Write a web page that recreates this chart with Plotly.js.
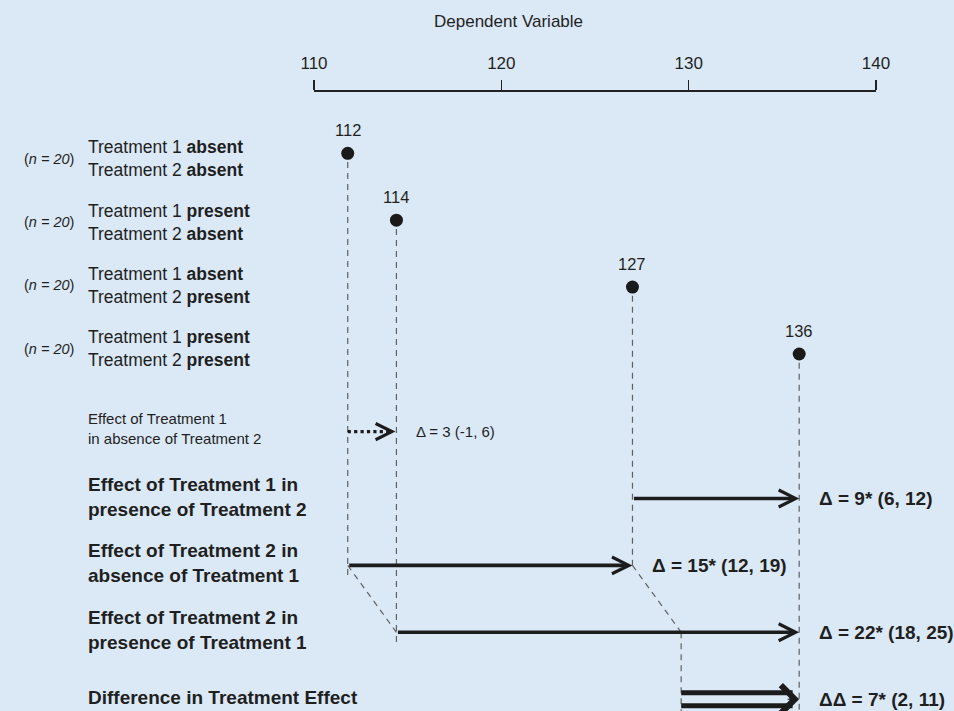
<!DOCTYPE html>
<html>
<head>
<meta charset="utf-8">
<script src="https://cdn.plot.ly/plotly-3.0.1.min.js"></script>
<style>
html,body{margin:0;padding:0;background:#dbe9f6;}
#chart{width:954px;height:711px;}
</style>
</head>
<body>
<div id="chart"></div>
<script>
// ---------------- data ----------------
const groupNames = [
  'Treatment 1 <b>absent</b><br>Treatment 2 <b>absent</b>',
  'Treatment 1 <b>present</b><br>Treatment 2 <b>absent</b>',
  'Treatment 1 <b>absent</b><br>Treatment 2 <b>present</b>',
  'Treatment 1 <b>present</b><br>Treatment 2 <b>present</b>'
];
const groupN = [20, 20, 20, 20];
const groupMeans = [111.8, 114.4, 127.0, 135.9];
const meanLabels = ['112', '114', '127', '136'];

const effectNames = [
  'Effect of Treatment 1<br>in absence of Treatment 2',
  'Effect of Treatment 1 in<br>presence of Treatment 2',
  'Effect of Treatment 2 in<br>absence of Treatment 1',
  'Effect of Treatment 2 in<br>presence of Treatment 1',
  'Difference in Treatment Effect'
];
const effectStats = [
  'Δ = 3 (-1, 6)',
  'Δ = 9* (6, 12)',
  'Δ = 15* (12, 19)',
  'Δ = 22* (18, 25)',
  'ΔΔ = 7* (2, 11)'
];
// which group means each effect goes from / to (null = difference of effects)
const effectFromGroup = [0, 2, 0, 1, null];
const effectToGroup   = [1, 3, 2, 3, 3];
const tickValues = [110, 120, 130, 140];

// ---------------- layout helpers ----------------
const W = 954, H = 711;
const L = 314, R = 876, T = 92;
const px = p => (p - L) / (R - L);            // pixel x -> paper x
const py = p => (H - p) / (H - T);            // pixel y -> paper y
const groupRow = i => i;                       // dot rows
const textRow = i => 0.08 + 0.947 * i;         // label rows
const effectRow = i => 4.16 + 1.0 * i;         // arrow rows

const m = groupMeans;
const diffStart = m[1] + (m[2] - m[0]);
const effStart = effectFromGroup.map((g, i) => g === null ? diffStart : m[g]);
const effEnd = effectToGroup.map(g => m[g]);

const FONT = "'Liberation Sans', Arial, Helvetica, sans-serif";
const TXT = '#1f1f1f';
const ARROW = '#1c1c1c';
const DASH = '#606060';

// ---------------- trace ----------------
const traces = [{
  type: 'scatter', mode: 'markers',
  x: groupMeans, y: groupMeans.map((v, i) => groupRow(i)),
  marker: {size: 13, color: '#1a1a1a'},
  hoverinfo: 'skip', showlegend: false, cliponaxis: false
}];

// ---------------- shapes (dashed guides, dotted / double shafts) ----------------
const dashLine = (x0, y0, x1, y1) => ({
  type: 'line', xref: 'x', yref: 'y', x0, y0, x1, y1,
  line: {color: DASH, width: 1.2, dash: '6px,5px'}, layer: 'below'
});
const shapes = [];
const top0 = 0.13;
shapes.push(dashLine(m[0], groupRow(0) + top0, m[0], effectRow(2) + 0.2));
shapes.push(dashLine(m[0], effectRow(2), m[1], effectRow(3)));
shapes.push(dashLine(m[1], groupRow(1) + top0, m[1], effectRow(3) + 0.2));
shapes.push(dashLine(m[2], groupRow(2) + top0, m[2], effectRow(2)));
shapes.push(dashLine(m[2], effectRow(2), diffStart, effectRow(3)));
shapes.push(dashLine(diffStart, effectRow(3), diffStart, 8.6));
shapes.push(dashLine(m[3], groupRow(3) + top0, m[3], 8.6));

// dotted shaft of first effect
shapes.push({type: 'line', xref: 'x', yref: 'y',
  x0: effStart[0], y0: effectRow(0), x1: effEnd[0] - 0.45, y1: effectRow(0),
  line: {color: ARROW, width: 3.2, dash: 'dot'}});
// double shaft of difference effect
[-0.097, 0.097].forEach(d => shapes.push({type: 'line', xref: 'x', yref: 'y',
  x0: effStart[4], y0: effectRow(4) + d, x1: effEnd[4] - 0.35, y1: effectRow(4) + d,
  line: {color: ARROW, width: 5}}));

// ---------------- annotations ----------------
const ann = [];
ann.push({xref: 'paper', yref: 'paper', x: px(508), y: py(22), text: 'Dependent Variable',
  showarrow: false, xanchor: 'center', yanchor: 'middle', font: {family: FONT, size: 17, color: TXT}});

groupNames.forEach((t, i) => {
  ann.push({xref: 'paper', yref: 'y', x: px(86), y: textRow(i), text: t, showarrow: false,
    xanchor: 'left', yanchor: 'middle', align: 'left', font: {family: FONT, size: 17.5, color: TXT}});
  ann.push({xref: 'paper', yref: 'y', x: px(76), y: textRow(i), text: '(<i>n = ' + groupN[i] + '</i>)',
    showarrow: false, xanchor: 'right', yanchor: 'middle', font: {family: FONT, size: 14.5, color: TXT}});
  ann.push({xref: 'x', yref: 'y', x: groupMeans[i], y: groupRow(i), text: meanLabels[i], showarrow: false,
    xanchor: 'center', yanchor: 'middle', yshift: 23, font: {family: FONT, size: 16.5, color: TXT}});
});

effectNames.forEach((t, i) => {
  const small = i === 0;
  ann.push({xref: 'paper', yref: 'y', x: px(86), y: effectRow(i), text: small ? t : '<b>' + t + '</b>',
    showarrow: false, xanchor: 'left', yanchor: 'middle', align: 'left', yshift: small ? 3 : 2,
    font: {family: FONT, size: small ? 15 : 19, color: TXT}});
  ann.push({xref: 'x', yref: 'y', x: effEnd[i], y: effectRow(i),
    text: small ? effectStats[i] : '<b>' + effectStats[i] + '</b>',
    showarrow: false, xanchor: 'left', yanchor: 'middle', xshift: 18,
    font: {family: FONT, size: small ? 15 : 19, color: TXT}});
});

// arrows
// effect 0: head only (dotted shaft is a shape)
ann.push({xref: 'x', yref: 'y', axref: 'x', ayref: 'y', x: effEnd[0], y: effectRow(0),
  ax: effEnd[0] - 0.5, ay: effectRow(0), text: '', showarrow: true, arrowhead: 5,
  arrowwidth: 1, arrowsize: 3.2, arrowcolor: ARROW, standoff: 1});
// effects 1..3 solid
[1, 2, 3].forEach(i => ann.push({xref: 'x', yref: 'y', axref: 'x', ayref: 'y',
  x: effEnd[i], y: effectRow(i), ax: effStart[i], ay: effectRow(i), text: '', showarrow: true,
  arrowhead: 5, arrowwidth: 3.6, arrowsize: 0.92, arrowcolor: ARROW, standoff: 0}));
// effect 4: big head only
ann.push({xref: 'x', yref: 'y', axref: 'x', ayref: 'y', x: effEnd[4], y: effectRow(4),
  ax: effEnd[4] - 0.7, ay: effectRow(4), text: '', showarrow: true, arrowhead: 4,
  arrowwidth: 1, arrowsize: 5.4, arrowcolor: ARROW, standoff: 0});

const layout = {
  width: W, height: H,
  margin: {l: L, r: W - R, t: T, b: 0, pad: 0},
  paper_bgcolor: '#dbe9f6', plot_bgcolor: '#dbe9f6',
  font: {family: FONT, color: TXT},
  showlegend: false,
  xaxis: {
    range: [110, 140], side: 'top', tickvals: tickValues, ticktext: tickValues.map(String),
    ticks: 'outside', ticklen: 10, tickwidth: 1.5, tickcolor: '#222',
    showline: true, linecolor: '#222', linewidth: 2,
    showgrid: false, zeroline: false, fixedrange: true, automargin: false,
    tickfont: {family: FONT, size: 17, color: TXT}, ticklabelstandoff: 4
  },
  yaxis: {
    range: [(H - 153.3) / 66.9, (T - 153.3) / 66.9], visible: false,
    showgrid: false, zeroline: false, fixedrange: true, automargin: false
  },
  shapes: shapes,
  annotations: ann
};

Plotly.newPlot('chart', traces, layout, {displayModeBar: false, staticPlot: true});
</script>
</body>
</html>
